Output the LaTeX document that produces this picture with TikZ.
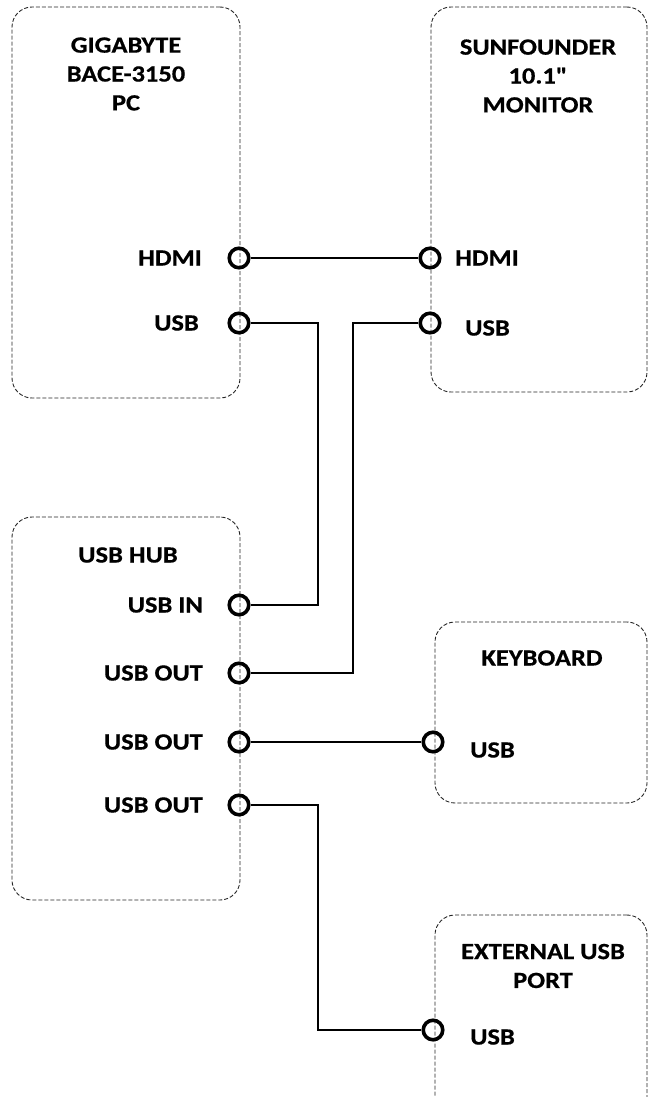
\documentclass[tikz,border=0pt]{standalone}
\usepackage{fontspec}
\setmainfont{Carlito}
\newfontfamily\dfont{Carlito}[FakeStretch=1.14, BoldFeatures={FakeStretch=1.14, FakeBold=0.6}]
\begin{document}
\begin{tikzpicture}[x=1bp,y=-1bp,
  box/.style={draw=black!85, dashed, dash pattern=on 4bp off 2bp, line width=0.9bp, rounded corners=20bp, inner sep=0pt},
  port/.style={circle, draw, line width=3.6bp, minimum size=19.5bp, inner sep=0pt, fill=none},
  lbl/.style={font=\dfont\fontsize{23.3}{29}\selectfont\bfseries, text=black, inner sep=0pt},
  ttl/.style={font=\dfont\fontsize{23.3}{29}\selectfont\bfseries, text=black, align=center, inner sep=0pt},
  wire/.style={line width=1.7bp}]
\clip (0,0) rectangle (649,1097);
% boxes
\node[box, minimum width=228bp, minimum height=391bp] (pcbox) at (126,202.5) {};
\node[box, minimum width=216bp, minimum height=385bp] (monbox) at (539,199.5) {};
\node[box, minimum width=228bp, minimum height=383bp] (hubbox) at (126,708.5) {};
\node[box, minimum width=212bp, minimum height=181bp] (kbbox) at (541,712.5) {};
\node[box, minimum width=212bp, minimum height=260bp] (extbox) at (541,1045) {};
% titles
\node[ttl] (pct) at (126,74) {GIGABYTE\\BACE-3150\\PC};
\node[ttl] (mont) at (538,76) {SUNFOUNDER\\10.1"\\MONITOR};
\node[ttl] (hubt) at (128,555) {USB HUB};
\node[ttl] (kbt) at (542,658) {KEYBOARD};
\node[ttl] (extt) at (543,966) {EXTERNAL USB\\PORT};
% ports
\node[port] (pchdmi) at (239,258) {};
\node[port] (pcusb) at (239,323) {};
\node[port] (monhdmi) at (430,258) {};
\node[port] (monusb) at (430,323) {};
\node[port] (hubin) at (239,605) {};
\node[port] (hubo1) at (239,673) {};
\node[port] (hubo2) at (239,742) {};
\node[port] (hubo3) at (239,805) {};
\node[port] (kbusb) at (433,742) {};
\node[port] (extusb) at (433,1030) {};
% port labels
\node[lbl, anchor=east] (l1) at (202,258) {HDMI};
\node[lbl, anchor=east] (l2) at (199,323) {USB};
\node[lbl, anchor=west] (l3) at (455,258) {HDMI};
\node[lbl, anchor=west] (l4) at (465,328) {USB};
\node[lbl, anchor=east] (l5) at (203,605) {USB IN};
\node[lbl, anchor=east] (l6) at (203,673) {USB OUT};
\node[lbl, anchor=east] (l7) at (203,742) {USB OUT};
\node[lbl, anchor=east] (l8) at (203,805) {USB OUT};
\node[lbl, anchor=west] (l9) at (470,750) {USB};
\node[lbl, anchor=west] (l10) at (470,1037) {USB};
% junction columns
\coordinate (j1) at (318,0);
\coordinate (j2) at (353,0);
% wires
\draw[wire] (pchdmi.east) -- (monhdmi.west);
\draw[wire] (pcusb.east) -| (j1 |- hubin) -- (hubin.east);
\draw[wire] (monusb.west) -| (j2 |- hubo1) -- (hubo1.east);
\draw[wire] (hubo2.east) -- (kbusb.west);
\draw[wire] (hubo3.east) -| (j1 |- extusb) -- (extusb.west);
\end{tikzpicture}
\end{document}
